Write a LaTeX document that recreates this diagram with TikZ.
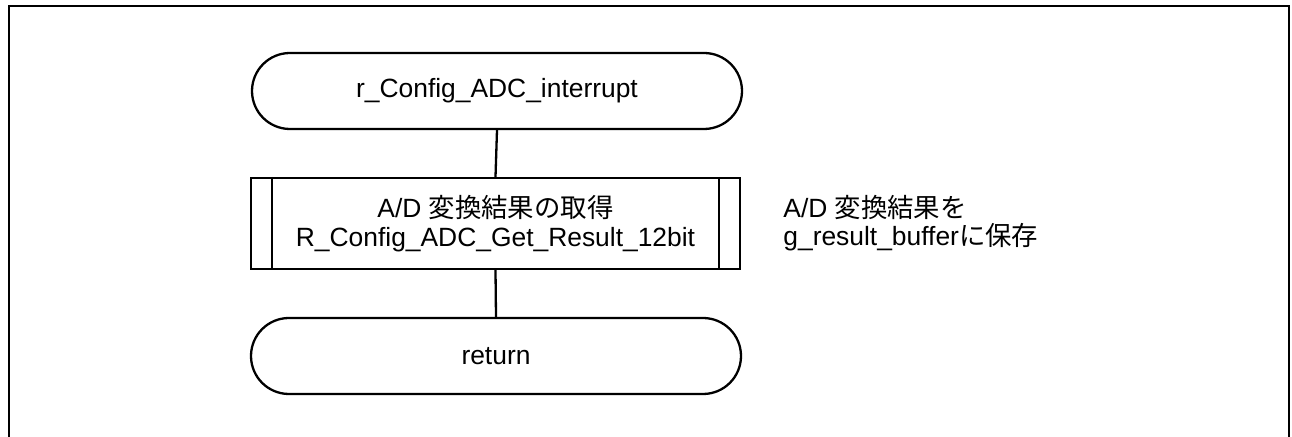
\documentclass[tikz,border=0pt]{standalone}
\usepackage{fontspec}
\setmainfont{Liberation Sans}
\newfontfamily\cjk{Noto Sans CJK JP}
\usetikzlibrary{shapes.misc}
\tikzset{
  line/.style={line width=1.15pt, black},
  term/.style={rounded rectangle, draw, line width=1.15pt, minimum width=245pt, minimum height=38pt, inner sep=0pt, font=\fontsize{13.2}{14.3}\selectfont},
  subr/.style={rectangle, draw, line width=1.15pt, minimum width=244.5pt, minimum height=45.5pt, inner sep=0pt, align=center, font=\fontsize{13.2}{14.5}\selectfont},
  note/.style={anchor=west, align=left, inner sep=0pt, font=\fontsize{13.2}{14.3}\selectfont},
}
\begin{document}
\begin{tikzpicture}[x=0.5pt,y=-0.5pt]
\useasboundingbox (0,0) rectangle (1292,437);
\draw[line width=1pt] (9,437) -- (9,6) -- (1289,6) -- (1289,437);
\node[term] (start) at (497,91) {r\_Config\_ADC\_interrupt};
\node[subr] (get) at (495.5,223.5) {A/D {\cjk 変換結果の取得}\\R\_Config\_ADC\_Get\_Result\_12bit};
\draw[line] ([xshift=11pt]get.north west) -- ([xshift=11pt]get.south west);
\draw[line] ([xshift=-11pt]get.north east) -- ([xshift=-11pt]get.south east);
\node[term] (ret) at (496,356) {return};
\node[note] (note) at (783,223) {A/D {\cjk 変換結果を}\\g\_result\_buffer{\cjk に保存}};
\draw[line] (start.south) -- (get.north);
\draw[line] (get.south) -- (ret.north);
\end{tikzpicture}
\end{document}
